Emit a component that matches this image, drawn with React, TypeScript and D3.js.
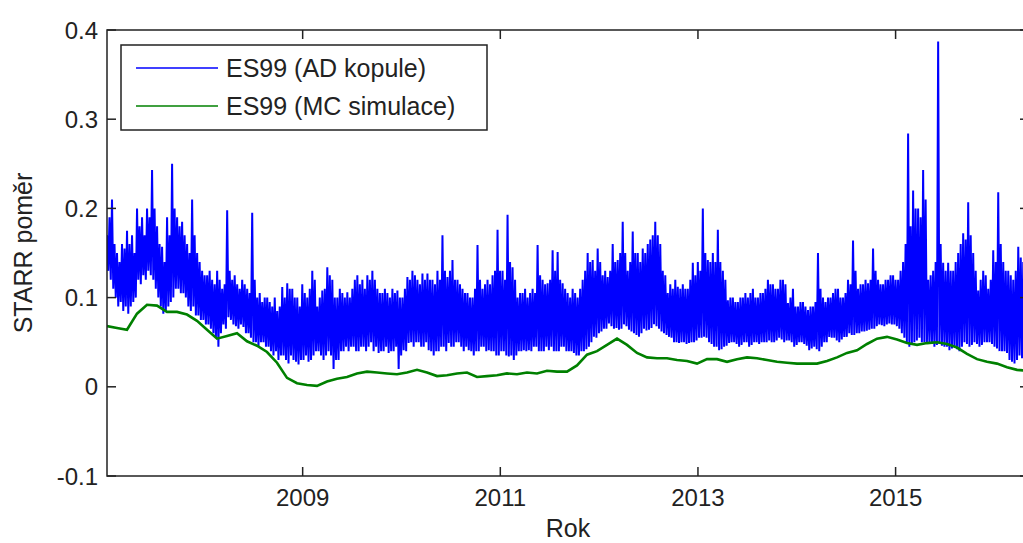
import React from "react";
import * as d3 from "d3";

const startYear = 2007.02;
const endYear = 2016.33;
const xTicks = [2009, 2011, 2013, 2015];
const yTicks = [-0.1, 0, 0.1, 0.2, 0.3, 0.4];
const yTickLabels = ["-0.1", "0", "0.1", "0.2", "0.3", "0.4"];
const seriesNames = ["ES99 (AD kopule)", "ES99 (MC simulace)"];
const xAxisTitle = "Rok";
const yAxisTitle = "STARR poměr";

// ES99 (AD kopule): successive local highs and lows in order
const blueHigh = [
  .17, .19, .21, .16, .15, .14, .16, .155, .175, .16, .17, .15, .20, .18, .19, .17,
  .20, .19, .243, .20, .18, .16, .157, .14, .19, .17, .25, .20, .19, .18, .185, .17,
  .16, .15, .21, .17, .15, .14, .13, .125, .125, .13, .12, .115, .13, .12, .11, .115,
  .198, .13, .12, .125, .115, .11, .12, .115, .11, .105, .195, .12, .10, .105, .095, .10,
  .10, .095, .09, .10, .085, .09, .112, .10, .116, .11, .11, .10, .10, .09, .115, .105,
  .10, .11, .13, .12, .09, .10, .108, .11, .134, .125, .12, .10, .10, .11, .105, .10,
  .106, .10, .11, .12, .125, .115, .12, .11, .125, .12, .13, .12, .11, .105, .105, .11,
  .105, .10, .11, .105, .108, .10, .10, .11, .123, .12, .13, .125, .12, .115, .127, .12,
  .127, .12, .12, .115, .13, .12, .17, .13, .123, .13, .142, .12, .12, .115, .11, .105,
  .105, .10, .10, .11, .159, .12, .11, .115, .12, .115, .125, .13, .176, .13, .13, .12,
  .193, .14, .134, .12, .10, .105, .105, .11, .10, .105, .11, .105, .159, .125, .12, .115,
  .116, .12, .153, .13, .151, .12, .116, .11, .105, .10, .11, .105, .10, .11, .12, .13,
  .15, .14, .142, .13, .155, .14, .125, .13, .123, .13, .16, .14, .142, .15, .185, .15,
  .13, .14, .174, .15, .15, .14, .155, .15, .16, .165, .17, .185, .17, .16, .13, .125,
  .105, .115, .11, .12, .112, .11, .115, .11, .11, .12, .139, .125, .14, .13, .20, .15,
  .142, .14, .15, .14, .176, .14, .13, .12, .097, .10, .10, .095, .095, .10, .10, .105,
  .10, .105, .11, .10, .10, .105, .105, .11, .12, .115, .115, .11, .11, .12, .12, .115,
  .094, .10, .11, .09, .09, .095, .095, .09, .086, .09, .09, .095, .15, .11, .10, .095,
  .10, .10, .105, .11, .11, .10, .10, .105, .12, .115, .164, .13, .11, .115, .115, .12,
  .116, .12, .155, .13, .12, .115, .115, .12, .12, .125, .125, .12, .12, .13, .14, .16,
  .284, .18, .22, .20, .20, .19, .243, .21, .12, .125, .13, .14, .387, .16, .139, .13,
  .139, .13, .13, .14, .15, .16, .172, .165, .207, .17, .15, .13, .108, .12, .13, .125,
  .11, .12, .153, .14, .218, .16, .14, .13, .13, .125, .12, .13, .157, .145, .14, .13,
];
const blueLow = [
  .13, .12, .11, .10, .09, .095, .085, .09, .082, .09, .095, .10, .12, .115, .125, .12,
  .13, .125, .12, .11, .10, .09, .082, .085, .09, .095, .10, .11, .11, .105, .105, .10,
  .09, .085, .09, .08, .08, .075, .075, .07, .07, .065, .06, .055, .045, .06, .07, .065,
  .078, .075, .07, .068, .065, .07, .067, .06, .06, .055, .05, .05, .045, .05, .05, .045,
  .045, .04, .035, .04, .03, .035, .035, .03, .026, .035, .03, .028, .025, .03, .03, .035,
  .028, .03, .035, .04, .04, .035, .03, .035, .04, .035, .02, .03, .03, .04, .04, .045,
  .04, .045, .045, .04, .04, .045, .045, .04, .045, .05, .04, .045, .038, .04, .04, .045,
  .038, .04, .04, .045, .02, .035, .041, .04, .049, .05, .045, .05, .05, .045, .045, .05,
  .041, .04, .035, .04, .04, .045, .045, .04, .049, .045, .045, .05, .05, .045, .04, .045,
  .041, .04, .035, .04, .04, .045, .045, .04, .041, .04, .04, .035, .035, .04, .04, .035,
  .034, .035, .03, .035, .04, .04, .041, .04, .041, .04, .045, .045, .04, .04, .04, .045,
  .041, .045, .04, .04, .04, .045, .045, .04, .04, .04, .038, .035, .035, .04, .04, .042,
  .045, .05, .056, .055, .06, .062, .065, .065, .071, .068, .065, .066, .064, .065, .07, .068,
  .064, .062, .06, .058, .056, .06, .065, .063, .064, .066, .07, .068, .065, .062, .06, .058,
  .056, .055, .05, .05, .049, .05, .05, .048, .049, .05, .05, .052, .055, .055, .056, .055,
  .05, .048, .045, .045, .041, .042, .045, .046, .049, .05, .05, .048, .045, .047, .05, .05,
  .045, .047, .05, .05, .048, .05, .05, .05, .052, .05, .05, .052, .055, .053, .05, .052,
  .052, .05, .045, .047, .05, .05, .048, .046, .041, .043, .045, .042, .04, .045, .05, .05,
  .056, .055, .055, .052, .05, .053, .056, .056, .06, .058, .058, .06, .06, .062, .062, .063,
  .064, .065, .065, .068, .07, .069, .068, .07, .071, .07, .07, .068, .065, .06, .055, .05,
  .045, .048, .05, .052, .055, .05, .05, .048, .05, .048, .045, .047, .048, .046, .045, .045,
  .041, .043, .045, .042, .04, .045, .05, .048, .045, .047, .05, .048, .045, .047, .05, .05,
  .05, .048, .045, .043, .04, .04, .04, .038, .03, .028, .026, .03, .035, .032, .03, .028,
];

// ES99 (MC simulace)
const greenValues = [
  .068, .066, .064, .082, .092, .091, .084, .084, .081, .074,
  .064, .054, .057, .060, .051, .046, .039, .027, .010, .004,
  .002, .001, .006, .009, .011, .015, .017, .016, .015, .014,
  .016, .019, .016, .012, .013, .015, .016, .011, .012, .013,
  .015, .014, .016, .015, .018, .017, .017, .024, .036, .040,
  .047, .054, .047, .038, .033, .032, .032, .030, .029, .026,
  .031, .031, .028, .031, .033, .032, .030, .028, .027, .026,
  .026, .026, .029, .033, .038, .041, .048, .054, .056, .053,
  .049, .047, .049, .050, .048, .044, .037, .031, .028, .026,
  .022, .019, .018,
];

const FONT = "'Liberation Sans', Arial, Helvetica, sans-serif";
const TEXT = "#222";

export default function App() {
  const W = 1023;
  const H = 543;
  const left = 107, top = 30, right = 1029, bottom = 476;
  const x = d3.scaleLinear().domain([2007.02, 2016.35]).range([left, right]);
  const y = d3.scaleLinear().domain([-0.1, 0.4]).range([bottom, top]);

  const blue = blueHigh.flatMap((h, i) => [h, blueLow[i]]);
  const blueData = blue.map((v, i) => ({
    t: startYear + (i / (blue.length - 1)) * (endYear - startYear),
    v,
  }));
  const greenData = greenValues.map((v, i) => ({
    t: startYear + (i / (greenValues.length - 1)) * (endYear - startYear),
    v,
  }));

  const line = d3
    .line<{ t: number; v: number }>()
    .x((d) => x(d.t))
    .y((d) => y(d.v));

  const tickLen = 9;

  return (
    <svg
      width={W}
      height={H}
      style={{ position: "absolute", left: 0, top: 0, background: "#fff" }}
      fontFamily={FONT}
    >
      <defs>
        <clipPath id="plot">
          <rect x={left} y={top} width={right - left} height={bottom - top} />
        </clipPath>
      </defs>
      <rect x={0} y={0} width={W} height={H} fill="#fff" />

      <g clipPath="url(#plot)">
        <path d={line(blueData) || ""} fill="none" stroke="#0000ff" strokeWidth={2} strokeLinejoin="miter" strokeMiterlimit={2} />
        <path d={line(greenData) || ""} fill="none" stroke="#008000" strokeWidth={2.6} />
      </g>

      {/* axes box */}
      <rect x={left} y={top} width={right - left} height={bottom - top} fill="none" stroke="#222" strokeWidth={1.5} />

      {/* y ticks */}
      {yTicks.map((t, i) => (
        <g key={"y" + i}>
          <line x1={left} x2={left + tickLen} y1={y(t)} y2={y(t)} stroke="#222" strokeWidth={1.5} />
          <line x1={right} x2={right - tickLen} y1={y(t)} y2={y(t)} stroke="#222" strokeWidth={1.5} />
          <text x={98} y={y(t)} textAnchor="end" dominantBaseline="central" fontSize={24} fill={TEXT}>
            {yTickLabels[i]}
          </text>
        </g>
      ))}

      {/* x ticks */}
      {xTicks.map((t) => (
        <g key={"x" + t}>
          <line x1={x(t)} x2={x(t)} y1={bottom} y2={bottom - tickLen} stroke="#222" strokeWidth={1.5} />
          <line x1={x(t)} x2={x(t)} y1={top} y2={top + tickLen} stroke="#222" strokeWidth={1.5} />
          <text x={x(t)} y={506} textAnchor="middle" fontSize={24} fill={TEXT}>
            {String(t)}
          </text>
        </g>
      ))}

      {/* axis titles */}
      <text x={(left + right) / 2} y={537} textAnchor="middle" fontSize={25} fill={TEXT}>
        {xAxisTitle}
      </text>
      <text
        transform={`translate(32, ${(top + bottom) / 2}) rotate(-90)`}
        textAnchor="middle"
        fontSize={25}
        fill={TEXT}
      >
        {yAxisTitle}
      </text>

      {/* legend */}
      <g>
        <rect x={121} y={45} width={366} height={85} fill="#fff" stroke="#222" strokeWidth={1.5} />
        <line x1={136} x2={218} y1={68} y2={68} stroke="#0000ff" strokeWidth={1.5} />
        <line x1={136} x2={218} y1={106} y2={106} stroke="#008000" strokeWidth={1.5} />
        <text x={226} y={77} fontSize={25} fill={TEXT}>{seriesNames[0]}</text>
        <text x={226} y={115} fontSize={25} fill={TEXT}>{seriesNames[1]}</text>
      </g>
    </svg>
  );
}
